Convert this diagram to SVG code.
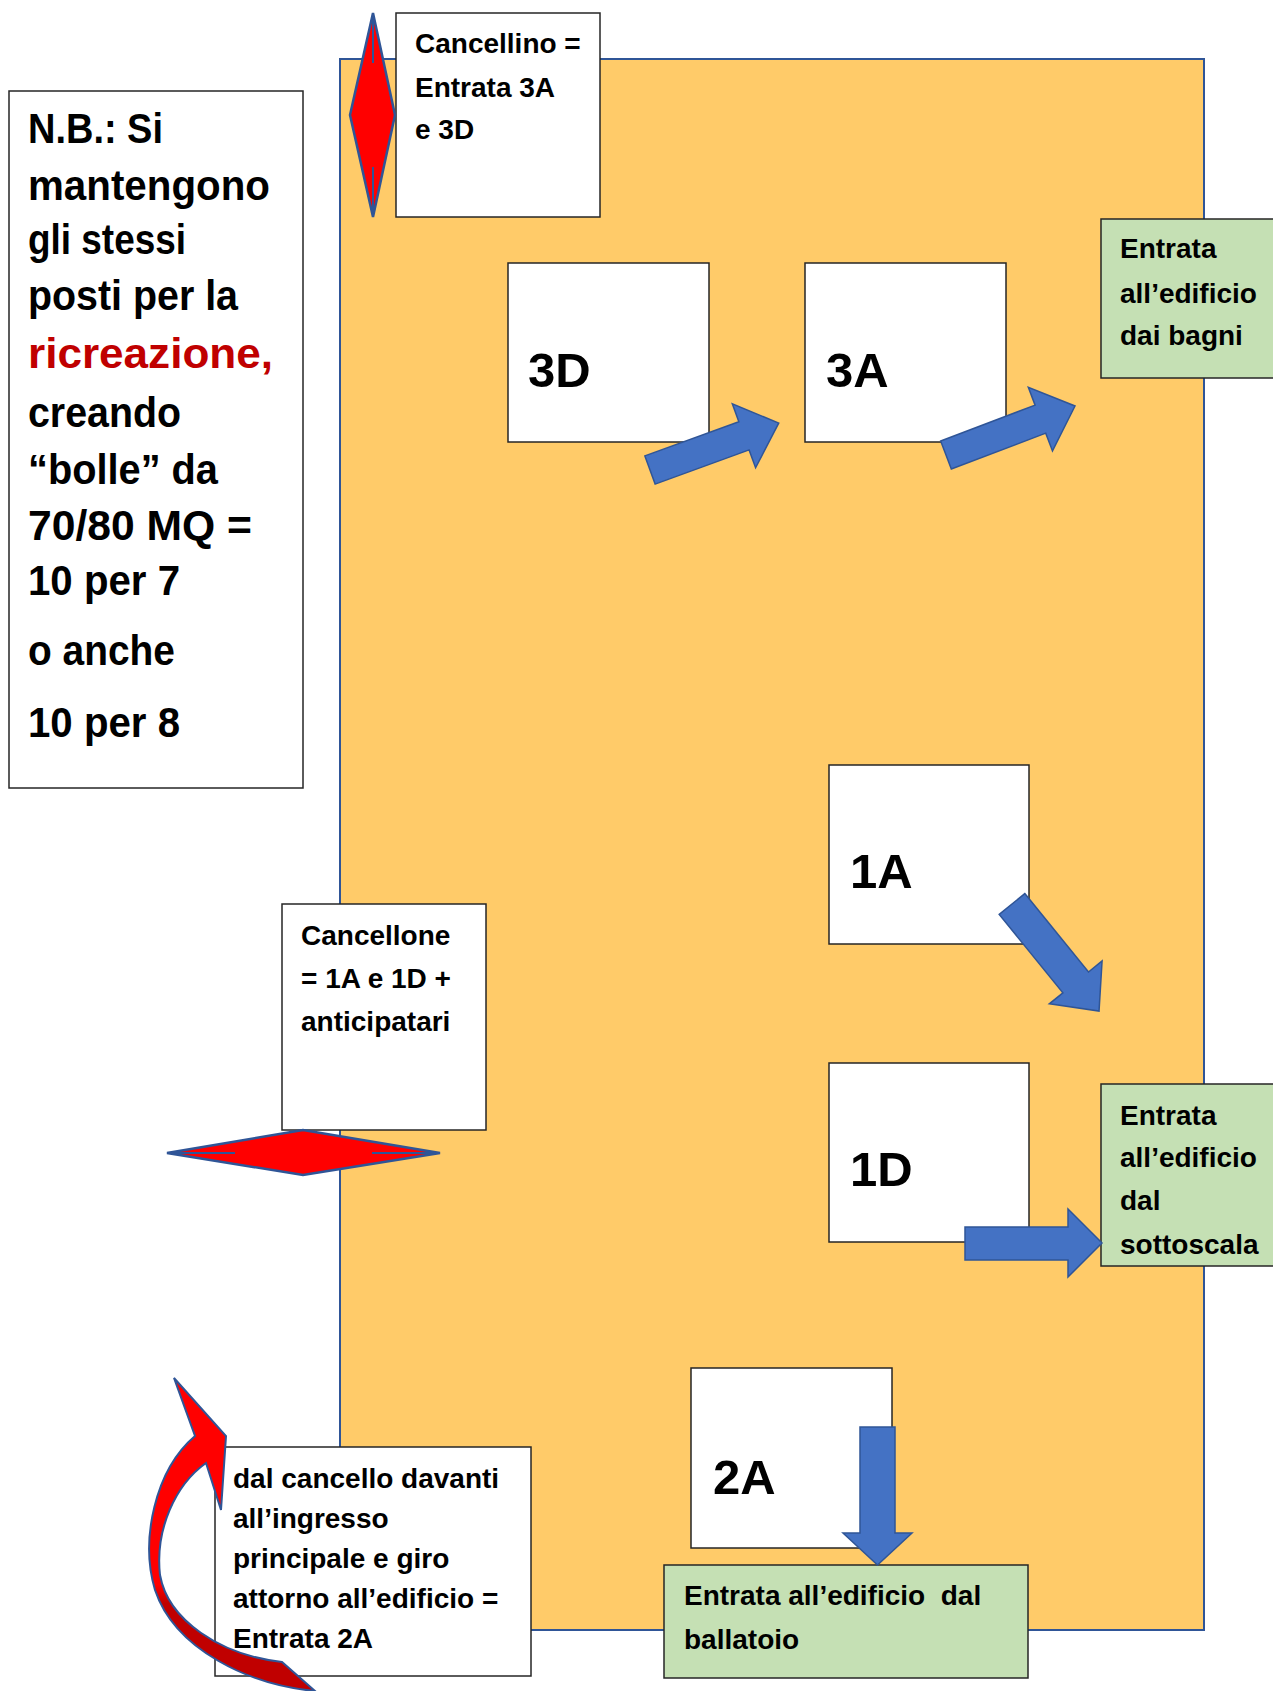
<svg xmlns="http://www.w3.org/2000/svg" width="1273" height="1691" viewBox="0 0 1273 1691">
<defs>
<style>
.t{font-family:"Liberation Sans",Arial,sans-serif;font-weight:bold;fill:#000}
.s{font-size:28px}
.b{font-size:42px}
.lbl{font-size:49px}
.box{fill:#fff;stroke:#262626;stroke-width:1.5}
.grn{fill:#C5E0B4;stroke:#262626;stroke-width:1.5}
.arr{fill:#4472C4;stroke:#2F5597;stroke-width:1.5}
.gate{fill:#FF0000;stroke:#2F5597;stroke-width:2.5;stroke-linejoin:miter}
.gl{stroke:#2F5597;stroke-width:2}
</style>
<linearGradient id="rg" gradientUnits="userSpaceOnUse" x1="0" y1="1378" x2="0" y2="1691">
<stop offset="0" stop-color="#FF0000"/>
<stop offset="0.66" stop-color="#FF0000"/>
<stop offset="0.72" stop-color="#C00000"/>
<stop offset="1" stop-color="#C00000"/>
</linearGradient>
</defs>

<g id="cortile">
<rect x="340" y="59" width="864" height="1571" fill="#FFCB69" stroke="#2F5597" stroke-width="2"/>
</g>

<g id="nota">
<rect class="box" x="9" y="91" width="294" height="697"/>
<text class="t b" x="28" y="143" textLength="135" lengthAdjust="spacingAndGlyphs">N.B.: Si</text>
<text class="t b" x="28" y="200" textLength="242" lengthAdjust="spacingAndGlyphs">mantengono</text>
<text class="t b" x="28" y="254" textLength="158" lengthAdjust="spacingAndGlyphs">gli stessi</text>
<text class="t b" x="28" y="310" textLength="210" lengthAdjust="spacingAndGlyphs">posti per la</text>
<text class="t b" x="28" y="368" textLength="245" lengthAdjust="spacingAndGlyphs" style="fill:#C00000">ricreazione,</text>
<text class="t b" x="28" y="427" textLength="153" lengthAdjust="spacingAndGlyphs">creando</text>
<text class="t b" x="28" y="484" textLength="190" lengthAdjust="spacingAndGlyphs">“bolle” da</text>
<text class="t b" x="28" y="540" textLength="224" lengthAdjust="spacingAndGlyphs">70/80 MQ =</text>
<text class="t b" x="28" y="595" textLength="152" lengthAdjust="spacingAndGlyphs">10 per 7</text>
<text class="t b" x="28" y="665" textLength="147" lengthAdjust="spacingAndGlyphs">o anche</text>
<text class="t b" x="28" y="737" textLength="152" lengthAdjust="spacingAndGlyphs">10 per 8</text>
</g>

<g id="cancellino">
<rect class="box" x="396" y="13" width="204" height="204"/>
<text class="t s" x="415" y="53">Cancellino =</text>
<text class="t s" x="415" y="97">Entrata 3A</text>
<text class="t s" x="415" y="139">e 3D</text>
</g>
<g id="gate-cancellino">
<polygon class="gate" points="373,13 395,115 373,217 350,115"/>
<line class="gl" x1="373" y1="13" x2="373" y2="63"/>
<line class="gl" x1="373" y1="167" x2="373" y2="217"/>
</g>

<g id="classe-3D">
<rect class="box" x="508" y="263" width="201" height="179"/>
<text class="t lbl" x="528" y="387">3D</text>
</g>
<g id="classe-3A">
<rect class="box" x="805" y="263" width="201" height="179"/>
<text class="t lbl" x="826" y="387">3A</text>
</g>
<g id="entrata-bagni">
<rect class="grn" x="1101" y="219" width="180" height="159"/>
<text class="t s" x="1120" y="258">Entrata</text>
<text class="t s" x="1120" y="303">all’edificio</text>
<text class="t s" x="1120" y="345">dai bagni</text>
</g>

<g id="classe-1A">
<rect class="box" x="829" y="765" width="200" height="179"/>
<text class="t lbl" x="850" y="888">1A</text>
</g>
<g id="classe-1D">
<rect class="box" x="829" y="1063" width="200" height="179"/>
<text class="t lbl" x="850" y="1186">1D</text>
</g>
<g id="entrata-sottoscala">
<rect class="grn" x="1101" y="1084" width="180" height="182"/>
<text class="t s" x="1120" y="1125">Entrata</text>
<text class="t s" x="1120" y="1167">all’edificio</text>
<text class="t s" x="1120" y="1210">dal</text>
<text class="t s" x="1120" y="1254">sottoscala</text>
</g>

<g id="cancellone">
<rect class="box" x="282" y="904" width="204" height="226"/>
<text class="t s" x="301" y="945">Cancellone</text>
<text class="t s" x="301" y="988">= 1A e 1D +</text>
<text class="t s" x="301" y="1031">anticipatari</text>
</g>
<g id="gate-cancellone">
<polygon class="gate" points="167,1153 303,1130 440,1153 303,1175"/>
<line class="gl" x1="167" y1="1153" x2="235" y2="1153"/>
<line class="gl" x1="372" y1="1153" x2="440" y2="1153"/>
</g>

<g id="classe-2A">
<rect class="box" x="691" y="1368" width="201" height="180"/>
<text class="t lbl" x="713" y="1494">2A</text>
</g>
<g id="entrata-ballatoio">
<rect class="grn" x="664" y="1565" width="364" height="113"/>
<text class="t s" x="684" y="1605" xml:space="preserve">Entrata all’edificio  dal</text>
<text class="t s" x="684" y="1649">ballatoio</text>
</g>

<g id="ingresso-2A">
<rect class="box" x="215" y="1447" width="316" height="229"/>
<text class="t s" x="233" y="1488">dal cancello davanti</text>
<text class="t s" x="233" y="1528">all’ingresso</text>
<text class="t s" x="233" y="1568">principale e giro</text>
<text class="t s" x="233" y="1608">attorno all’edificio =</text>
<text class="t s" x="233" y="1648">Entrata 2A</text>
</g>

<g id="connettori">
<polygon class="arr" transform="translate(650,470) rotate(-20)" points="0,-15 100,-15 100,-34 137,0 100,34 100,15 0,15"/>
<polygon class="arr" transform="translate(946,455) rotate(-20.8)" points="0,-15 101,-15 101,-34 138,0 101,34 101,15 0,15"/>
<polygon class="arr" transform="translate(1012,904) rotate(50.9)" points="0,-16.5 101,-16.5 101,-34 138,0 101,34 101,16.5 0,16.5"/>
<polygon class="arr" points="965,1227 1068,1227 1068,1209 1102,1243 1068,1277 1068,1260 965,1260"/>
<polygon class="arr" points="860,1427 895,1427 895,1533 912,1533 877.5,1565 843,1533 860,1533"/>
<path fill="url(#rg)" stroke="#2F5597" stroke-width="2" stroke-linejoin="miter" d="M174,1378 L226,1436 L221,1510 L206,1463 C175,1485 155,1530 160,1575 C168,1620 220,1655 282,1662 L315,1691 C250,1685 175,1650 155,1590 C140,1540 155,1470 195,1436 Z"/>
</g>
</svg>
